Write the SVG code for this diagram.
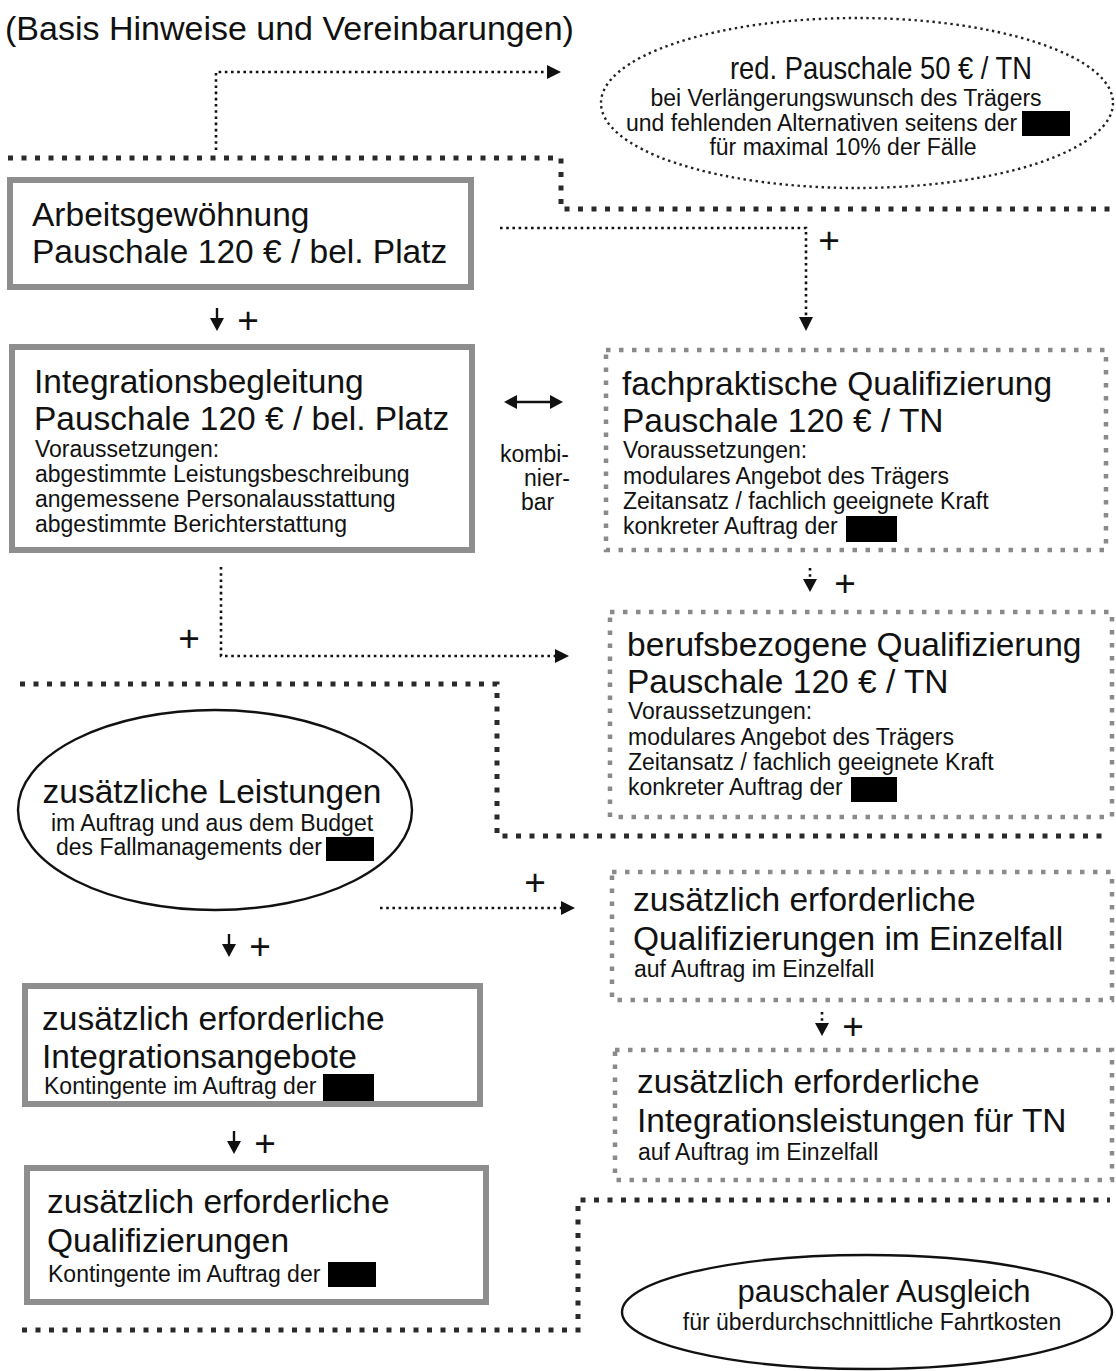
<svg xmlns="http://www.w3.org/2000/svg" width="1116" height="1371" viewBox="0 0 1116 1371">
<defs>
<style>
text{font-family:"Liberation Sans",Arial,sans-serif;fill:#111}
.big{font-size:33.5px}
.et{font-size:31px}
.sm{font-size:23px}
.plus{font-size:37px;text-anchor:middle}
.mid{text-anchor:middle}
.solid{fill:#fff;stroke:#8e8e8e;stroke-width:6}
.dash{fill:#fff;stroke:#8a8a8a;stroke-width:4.5;stroke-dasharray:4.5 8.5}
.sep{fill:none;stroke:#2a2a2a;stroke-width:5;stroke-dasharray:5 8.5}
.dot{fill:none;stroke:#111;stroke-width:2.6;stroke-dasharray:2.6 3.6}
.dotell{fill:#fff;stroke:#222;stroke-width:2.4;stroke-dasharray:2.4 3.6}
.ell{fill:#fff;stroke:#111;stroke-width:2.4}
.blk{fill:#000}
.ln{stroke:#111;stroke-width:2.4;fill:none}
</style>
</defs>

<text x="5" y="40" style="font-size:34px">(Basis Hinweise und Vereinbarungen)</text>

<g id="separators">
<path class="sep" d="M8 158 H561 V209 H1110"/>
<path class="sep" d="M20 684 H497 V836 H1110"/>
<path class="sep" d="M22 1330 H578 V1200 H1110"/>
</g>

<g id="connectors">
<path class="dot" d="M216 150 V72 H548" />
<path d="M547,65 L561,72 L547,79 Z" fill="#111"/>
<path class="dot" d="M500 228 H806 V318"/>
<path d="M799,317 L806,331 L813,317 Z" fill="#111"/>
<path class="dot" d="M221 567 V656 H556"/>
<path d="M555,649 L569,656 L555,663 Z" fill="#111"/>
<path class="dot" d="M380 908 H562"/>
<path d="M561,901 L575,908 L561,915 Z" fill="#111"/>
<path class="dot" d="M810 568 V580"/>
<path d="M803,579 L810,592 L817,579 Z" fill="#111"/>
<path class="dot" d="M822 1012 V1024"/>
<path d="M815,1023 L822,1036 L829,1023 Z" fill="#111"/>
<path class="ln" d="M217 308 V320"/>
<path d="M210,318 L217,331 L224,318 Z" fill="#111"/>
<path class="ln" d="M229 934 V946"/>
<path d="M222,944 L229,957 L236,944 Z" fill="#111"/>
<path class="ln" d="M234 1131 V1143"/>
<path d="M227,1141 L234,1154 L241,1141 Z" fill="#111"/>
<path class="ln" d="M512 402 H555"/>
<path d="M517,395 L504,402 L517,409 Z" fill="#111"/>
<path d="M550,395 L563,402 L550,409 Z" fill="#111"/>
<text class="plus" x="248" y="333">+</text>
<text class="plus" x="829" y="253">+</text>
<text class="plus" x="845" y="596">+</text>
<text class="plus" x="189" y="651">+</text>
<text class="plus" x="535" y="895">+</text>
<text class="plus" x="260" y="959">+</text>
<text class="plus" x="853" y="1039">+</text>
<text class="plus" x="265" y="1156">+</text>
<text class="sm" x="500" y="462">kombi-</text>
<text class="sm" x="524" y="486">nier-</text>
<text class="sm" x="521" y="510">bar</text>
</g>

<g id="n-reduziert">
<ellipse class="dotell" cx="857" cy="103" rx="256" ry="85"/>
<text x="730" y="79" style="font-size:32px" textLength="302" lengthAdjust="spacingAndGlyphs">red. Pauschale 50 € / TN</text>
<text class="sm mid" x="846" y="106">bei Verlängerungswunsch des Trägers</text>
<text class="sm" x="626" y="131">und fehlenden Alternativen seitens der</text>
<rect class="blk" x="1022" y="111" width="48" height="25"/>
<text class="sm mid" x="843" y="155">für maximal 10% der Fälle</text>
</g>

<g id="n-arbeitsgewoehnung">
<rect class="solid" x="10" y="180" width="461" height="107"/>
<text class="big" x="32" y="226">Arbeitsgewöhnung</text>
<text class="big" x="32" y="263">Pauschale 120 € / bel. Platz</text>
</g>

<g id="n-integrationsbegleitung">
<rect class="solid" x="12" y="347" width="460" height="203"/>
<text class="big" x="34" y="393">Integrationsbegleitung</text>
<text class="big" x="34" y="430">Pauschale 120 € / bel. Platz</text>
<text class="sm" x="35" y="457">Voraussetzungen:</text>
<text class="sm" x="35" y="482">abgestimmte Leistungsbeschreibung</text>
<text class="sm" x="35" y="507">angemessene Personalausstattung</text>
<text class="sm" x="35" y="532">abgestimmte Berichterstattung</text>
</g>

<g id="n-fachpraktisch">
<rect class="dash" x="606" y="350" width="500" height="200"/>
<text class="big" x="622" y="395">fachpraktische Qualifizierung</text>
<text class="big" x="622" y="432">Pauschale 120 € / TN</text>
<text class="sm" x="623" y="458">Voraussetzungen:</text>
<text class="sm" x="623" y="484">modulares Angebot des Trägers</text>
<text class="sm" x="623" y="509">Zeitansatz / fachlich geeignete Kraft</text>
<text class="sm" x="623" y="534">konkreter Auftrag der</text>
<rect class="blk" x="846" y="516" width="51" height="26"/>
</g>

<g id="n-berufsbezogen">
<rect class="dash" x="610" y="612" width="502" height="205"/>
<text class="big" x="627" y="656">berufsbezogene Qualifizierung</text>
<text class="big" x="627" y="693">Pauschale 120 € / TN</text>
<text class="sm" x="628" y="719">Voraussetzungen:</text>
<text class="sm" x="628" y="745">modulares Angebot des Trägers</text>
<text class="sm" x="628" y="770">Zeitansatz / fachlich geeignete Kraft</text>
<text class="sm" x="628" y="795">konkreter Auftrag der</text>
<rect class="blk" x="851" y="777" width="46" height="25"/>
</g>

<g id="n-zusaetzliche-leistungen">
<ellipse class="ell" cx="215" cy="810" rx="197" ry="100"/>
<text class="big mid" x="212" y="803">zusätzliche Leistungen</text>
<text class="sm mid" x="212" y="831">im Auftrag und aus dem Budget</text>
<text class="sm" x="56" y="855">des Fallmanagements der</text>
<rect class="blk" x="326" y="837" width="48" height="24"/>
</g>

<g id="n-quali-einzelfall">
<rect class="dash" x="612" y="872" width="500" height="128"/>
<text class="big" x="633" y="911">zusätzlich erforderliche</text>
<text class="big" x="633" y="950">Qualifizierungen im Einzelfall</text>
<text class="sm" x="634" y="977">auf Auftrag im Einzelfall</text>
</g>

<g id="n-integrationsleistungen">
<rect class="dash" x="615" y="1050" width="497" height="130"/>
<text class="big" x="637" y="1093">zusätzlich erforderliche</text>
<text class="big" x="637" y="1132">Integrationsleistungen für TN</text>
<text class="sm" x="638" y="1160">auf Auftrag im Einzelfall</text>
</g>

<g id="n-integrationsangebote">
<rect class="solid" x="25" y="986" width="455" height="118"/>
<text class="big" x="42" y="1030">zusätzlich erforderliche</text>
<text class="big" x="42" y="1068">Integrationsangebote</text>
<text class="sm" x="44" y="1094">Kontingente im Auftrag der</text>
<rect class="blk" x="323" y="1074" width="51" height="27"/>
</g>

<g id="n-qualifizierungen">
<rect class="solid" x="27" y="1168" width="459" height="134"/>
<text class="big" x="47" y="1213">zusätzlich erforderliche</text>
<text class="big" x="47" y="1252">Qualifizierungen</text>
<text class="sm" x="48" y="1282">Kontingente im Auftrag der</text>
<rect class="blk" x="328" y="1262" width="48" height="25"/>
</g>

<g id="n-fahrtkosten">
<ellipse class="ell" cx="867" cy="1312" rx="245" ry="57"/>
<text class="et mid" x="884" y="1302">pauschaler Ausgleich</text>
<text class="sm mid" x="872" y="1330">für überdurchschnittliche Fahrtkosten</text>
</g>
</svg>
